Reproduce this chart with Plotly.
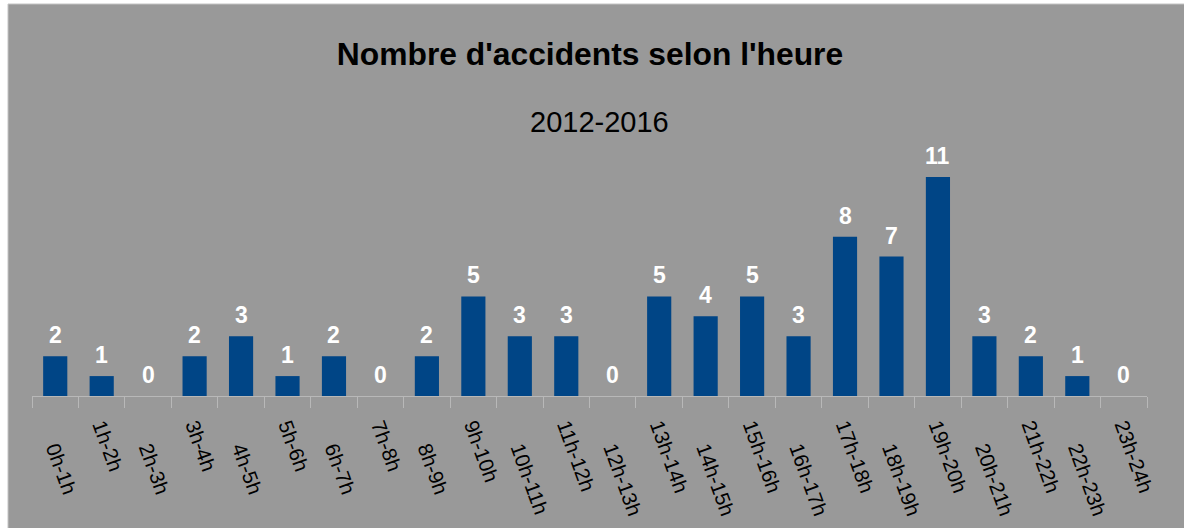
import plotly.graph_objects as go

categories = ["0h-1h", "1h-2h", "2h-3h", "3h-4h", "4h-5h", "5h-6h", "6h-7h", "7h-8h",
              "8h-9h", "9h-10h", "10h-11h", "11h-12h", "12h-13h", "13h-14h", "14h-15h",
              "15h-16h", "16h-17h", "17h-18h", "18h-19h", "19h-20h", "20h-21h", "21h-22h",
              "22h-23h", "23h-24h"]
values = [2, 1, 0, 2, 3, 1, 2, 0, 2, 5, 3, 3, 0, 5, 4, 5, 3, 8, 7, 11, 3, 2, 1, 0]
title = "Nombre d'accidents selon l'heure"
subtitle = "2012-2016"

FONT = "Liberation Sans, Arial, sans-serif"
BG = "#999999"
BAR = "#004586"
AXIS = "#b8b8b8"

W, H = 1184, 528
ML, MR, MT, MB = 32, 37, 157, 132
pw = W - ML - MR
ph = H - MT - MB

fig = go.Figure()
fig.add_trace(go.Bar(x=categories, y=values, marker_color=BAR, marker_line_width=0,
                     hoverinfo="x+y", showlegend=False))

even_idx = list(range(0, len(categories), 2))
odd_idx = list(range(1, len(categories), 2))

# invisible helper traces so the two staggered label axes are drawn
for idx, ax in ((even_idx, "x2"), (odd_idx, "x3")):
    fig.add_trace(go.Scatter(x=idx, y=[0] * len(idx), xaxis=ax, yaxis="y", mode="markers",
                             marker=dict(opacity=0), hoverinfo="skip", showlegend=False))

# data labels
for c, v in zip(categories, values):
    fig.add_annotation(x=c, y=v, xref="x", yref="y", text="<b>%d</b>" % v,
                       showarrow=False, yanchor="bottom", yshift=6,
                       font=dict(family=FONT, size=23, color="white"))

axis_common = dict(overlaying="x", anchor="y", side="bottom", type="linear",
                   range=[-0.5, len(categories) - 0.5], showgrid=False, zeroline=False,
                   showline=False, ticks="", tickmode="array", tickangle=70,
                   tickfont=dict(family=FONT, size=20.5, color="black"), automargin=False)

fig.update_layout(
    width=W, height=H,
    margin=dict(l=ML, r=MR, t=MT, b=MB, autoexpand=False),
    paper_bgcolor="white", plot_bgcolor="rgba(0,0,0,0)",
    bargap=0.48,
    title=dict(text="<b>%s</b>" % title, x=590 / W, xref="container", xanchor="center",
               y=1 - 54 / H, yref="container", yanchor="middle",
               font=dict(family=FONT, size=31.8, color="black")),
    xaxis=dict(type="category", showticklabels=False, tickson="boundaries", ticks="outside",
               ticklen=11, tickcolor=AXIS, tickwidth=1, showline=True, linecolor=AXIS,
               linewidth=1, showgrid=False, automargin=False),
    xaxis2=dict(axis_common, tickvals=even_idx, ticktext=[categories[i] for i in even_idx],
                ticklabelstandoff=36),
    xaxis3=dict(axis_common, tickvals=odd_idx, ticktext=[categories[i] for i in odd_idx],
                ticklabelstandoff=13),
    yaxis=dict(range=[0, 12], visible=False, showgrid=False, zeroline=False),
    font=dict(family=FONT, color="black"),
)

# gray chart background
fig.add_shape(type="rect", xref="paper", yref="paper", layer="below",
              x0=(8 - ML) / pw, x1=(W + 2 - ML) / pw, y0=-(H + 2 - (MT + ph)) / ph, y1=(MT + ph - 4) / ph,
              fillcolor=BG, line=dict(color="#c4c4c4", width=1))

fig.add_annotation(text=subtitle, xref="paper", yref="paper",
                   x=(599 - ML) / pw, y=(MT + ph - 121.5) / ph, xanchor="center", yanchor="middle",
                   showarrow=False, font=dict(family=FONT, size=29, color="black"))

fig.write_html("out.html", config={"displayModeBar": False},
               post_script="document.body.style.margin='0';")
